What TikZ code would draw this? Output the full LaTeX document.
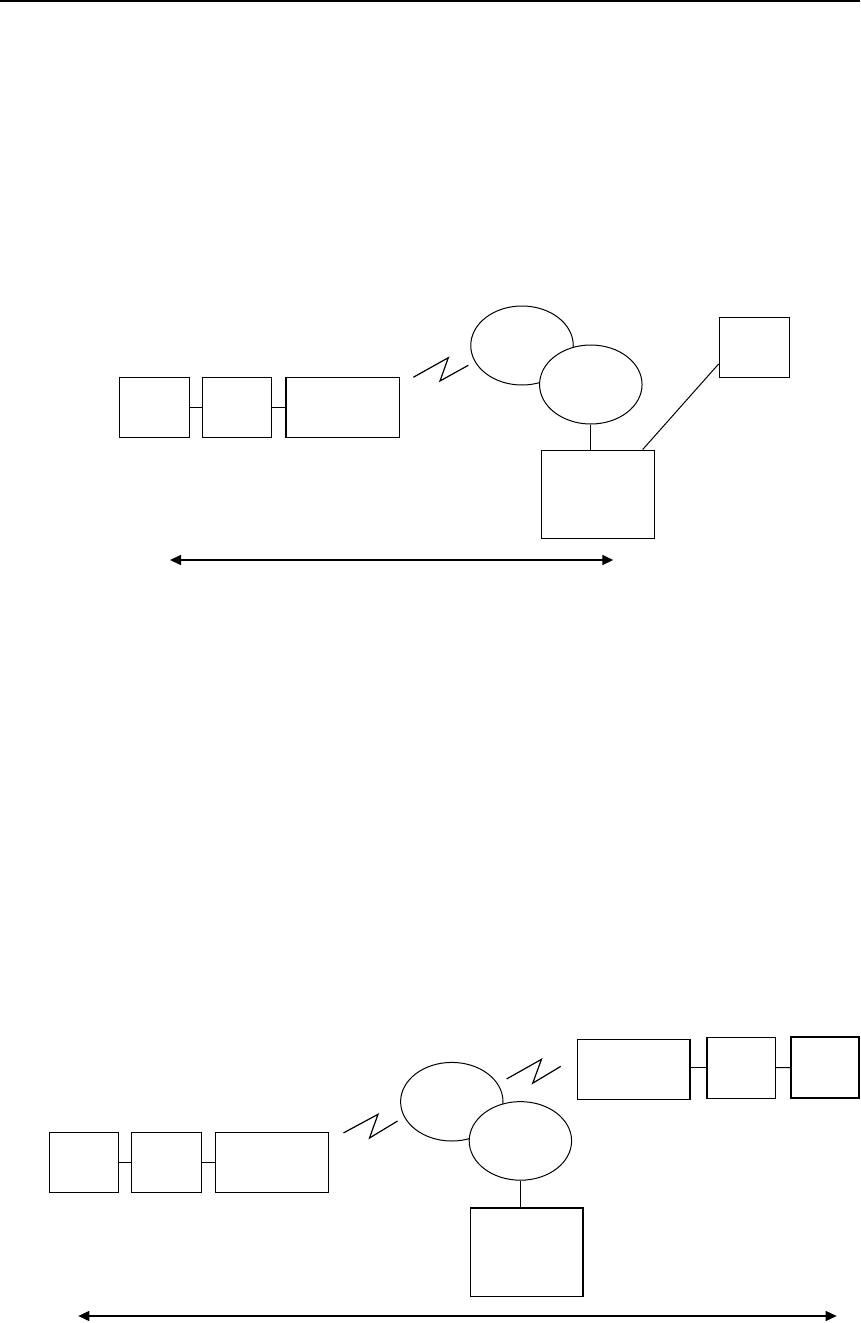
\documentclass[tikz,border=0pt]{standalone}
\usepackage{tikz}
\usetikzlibrary{positioning,arrows.meta,shapes.geometric}
\tikzset{
  unitbox/.style={draw, line width=1.3pt, fill=white, inner sep=0pt, minimum height=60pt},
  cloudnode/.style={draw, ellipse, line width=1pt, fill=white, inner sep=0pt, minimum width=102.5pt, minimum height=79pt},
  hostbox/.style={draw, line width=1.3pt, fill=white, inner sep=0pt, minimum width=112.5pt, minimum height=88pt},
  linkline/.style={line width=1pt},
  boltline/.style={line width=1.2pt},
  spanarrow/.style={{Triangle[length=11pt,width=10pt]}-{Triangle[length=11pt,width=10pt]}, line width=1.5pt},
  toprule/.style={line width=2.2pt}
}
\begin{document}
\begin{tikzpicture}[x=1pt, y=-1pt]
      \useasboundingbox (0,0) rectangle (860,1323);
      \draw[toprule] (0,1.1) -- (860,1.1);
      % upper picture
      \node[unitbox, minimum width=70pt] (b1) at (154.3,407.3) {};
      \node[unitbox, minimum width=69.4pt] (b2) at (237,407.3) {};
      \node[unitbox, minimum width=113.3pt] (b3) at (342.7,407.3) {};
      \draw[linkline] (b1) -- (b2);
      \draw[linkline] (b2) -- (b3);
      \draw[boltline] (413.3,377.3) -- (448.3,357.7) -- (440,381) -- (468.3,365.3);
      \node[cloudnode] (e1) at (522,345.5) {};
      \node[cloudnode] (e2) at (590.8,384.5) {};
      \node[hostbox] (srv) at (598,494.2) {};
      \node[unitbox, minimum width=70pt] (tbx) at (754.3,347.3) {};
      \draw[linkline] (e2.south) -- (e2.south |- srv.north);
      \draw[linkline] (srv.45) -- (tbx.205);
      \coordinate (ua) at (170,560);
      \coordinate (ub) at (613.3,560);
      \draw[spanarrow] (ua) -- (ub);
      % lower picture
      \node[unitbox, minimum width=69.4pt] (c1) at (84,1162.3) {};
      \node[unitbox, minimum width=69.6pt] (c2) at (166.5,1162.3) {};
      \node[unitbox, minimum width=113pt] (c3) at (272.2,1162.3) {};
      \draw[linkline] (c1) -- (c2);
      \draw[linkline] (c2) -- (c3);
      \draw[boltline] (343.5,1132.9) -- (378,1114.3) -- (369.5,1138) -- (397.6,1121);
      \node[cloudnode, minimum width=102.4pt, minimum height=78.6pt] (f1) at (451.8,1101.7) {};
      \node[cloudnode, minimum width=102.4pt, minimum height=78.6pt] (f2) at (520.4,1140.9) {};
      \draw[boltline] (506.7,1078.9) -- (541.5,1059.3) -- (532.7,1083.2) -- (560.7,1066.4);
      \node[hostbox, minimum height=88.8pt] (srv2) at (526.8,1252.4) {};
      \draw[linkline] (f2.south) -- (f2.south |- srv2.north);
      \node[unitbox, minimum width=112.7pt] (d1) at (633.5,1069.3) {};
      \node[unitbox, minimum width=68.3pt, minimum height=61pt] (d2) at (741,1067.8) {};
      \node[unitbox, minimum width=68pt, minimum height=61pt] (d3) at (825,1067.5) {};
      \draw[linkline] (d1.east |- d2) -- (d2.west);
      \draw[linkline] (d2) -- (d3);
      \coordinate (la) at (78.3,1316);
      \coordinate (lb) at (836.7,1316);
      \draw[spanarrow] (la) -- (lb);
    \end{tikzpicture}
\end{document}
